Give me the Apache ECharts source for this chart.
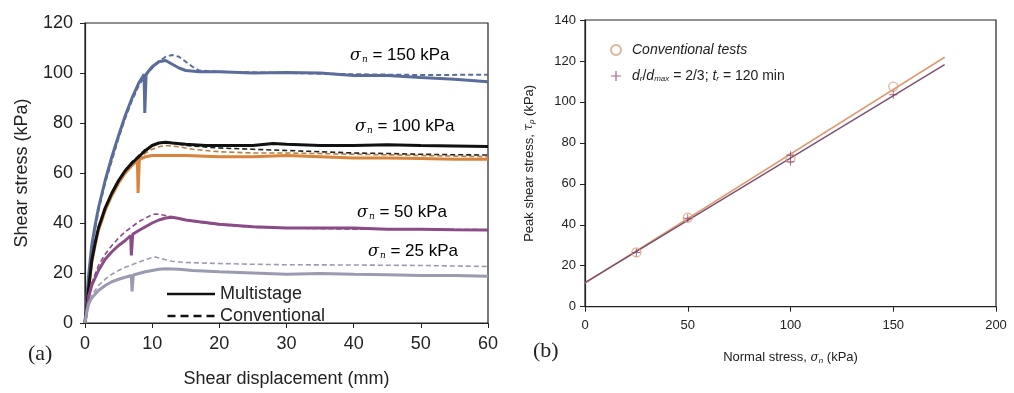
<!DOCTYPE html>
<html><head><meta charset="utf-8">
<script src="https://cdn.jsdelivr.net/npm/echarts@6/dist/echarts.min.js"></script>
<style>html,body{margin:0;padding:0;background:#fff}#c{width:1014px;height:393px}</style>
</head><body><div id="c"></div>
<script>
// ---- Panel (a): shear stress vs shear displacement ----
const ms150 = [[0,0],[0.5,18],[1,31],[1.5,39],[2,46],[3,57],[4,66.5],[5,75],[6,83],[7,90],[8,96],[8.8,99.5],[8.9,84],[9.0,83.4],[9.1,99.5],[10,102.5],[11,104.5],[12,105],[13,103.5],[14,102],[15,101],[17,100.5],[20,100.5],[25,100],[30,100.2],[35,100],[40,99],[45,99],[50,98.2],[55,97.5],[60,96.5]];
const cv150 = [[0,0],[0.5,17],[1,30],[2,45],[3,56],[4,65],[5,74],[6,82],[7,89],[8,95],[9,99],[10,102],[11,104.5],[12,106.5],[13,107.2],[14,106.5],[15,104.5],[16,102.5],[17,101],[20,100.5],[30,100],[40,99.5],[50,99.2],[60,99.3]];
const blk100 = [[0,0],[0.5,13],[1,25],[1.5,32],[2,38],[3,46],[4,52],[5,57],[6,61],[7,64],[8,66.5],[9,69],[10,71],[11,72],[12,72.3],[13,72],[15,71.5],[18,71],[20,71],[25,71],[28,71.8],[30,71.5],[35,71],[40,71],[45,71.3],[50,71],[55,70.8],[60,70.6]];
const org100 = [[0,0],[0.5,13],[1,24],[1.5,31],[2,37],[3,45],[4,51],[5,56],[6,60],[7,63],[7.8,65],[7.9,52],[8.0,52],[8.1,65.5],[9,66.5],[10,67],[15,67],[20,66.5],[25,66.5],[30,67],[35,66.5],[40,66],[45,66],[50,65.8],[55,65.5],[60,65.5]];
const blk100c = [[0,0],[1,25],[2,38],[3,46],[4,52],[5,57],[6,61],[7,64.5],[8,67],[9,69.5],[10,71],[11,72],[12,72.5],[13,72],[15,71],[20,70],[25,69.5],[30,69],[35,68.5],[40,68],[45,67.8],[50,67.5],[55,67.3],[60,67.2]];
const org100c = [[0,0],[1,24],[2,37],[3,45],[4,51.5],[5,56.5],[6,60.5],[7,63.5],[8,66],[9,68],[10,69.5],[11,70.5],[12,71],[14,70.5],[16,69.5],[20,68.5],[25,68],[30,68],[40,67.5],[50,67],[60,66.5]];
const ms50 = [[0,0],[0.3,6],[0.6,11],[1,15],[2,21],[3,25.5],[4,28.5],[5,31],[6,33],[6.8,35],[6.9,27],[7.0,26.5],[7.1,35.5],[8,37],[9,38.5],[10,40],[11,41.2],[12,42],[13,42.3],[14,41.8],[15,41.2],[17,40.5],[20,39.5],[25,38.5],[30,38],[35,38],[40,38],[45,37.5],[50,37.5],[55,37.3],[60,37.2]];
const cv50 = [[0,0],[0.5,11],[1,16],[2,23],[3,27.5],[4,31],[5,34],[6,36.5],[7,38.5],[8,40.5],[9,42],[10,43.3],[10.5,43.6],[11,43.5],[12,43],[13,42.5],[14,41.8],[15,41.2],[17,40.3],[20,39.3],[25,38.3],[30,38],[35,37.8],[40,37.5],[50,37.5],[60,37.3]];
const ms25 = [[0,0],[0.3,5],[0.6,8],[1,10],[2,13],[3,15],[4,16.5],[5,17.5],[6,18.3],[6.9,19],[7.0,12.6],[7.1,12.6],[7.2,19.2],[8,19.8],[9,20.5],[10,21],[11,21.5],[12,21.7],[14,21.5],[16,21],[20,20.5],[25,20],[30,19.5],[35,19.8],[40,19.5],[45,19.3],[50,19],[55,19],[60,18.7]];
const cv25 = [[0,0],[0.5,7],[1,11],[2,15],[3,17.5],[4,19.5],[5,21],[6,22.3],[7,23.3],[8,24.3],[9,25.3],[10,26.2],[10.5,26.4],[11,26],[12,25.3],[13,24.7],[15,24.2],[20,23.8],[25,23.5],[30,23.3],[40,23.2],[50,23],[60,22.6]];
const labelsA = ['150','100','50','25'];

// ---- Panel (b): peak shear stress vs normal stress ----
const convPts = [[25,26.5],[50,43.5],[100,72.5],[150,107.5]];
const msPts = [[25,26.5],[50,43.2],[100,74],[100,70.8],[150,103.5]];
const convFit = [[0,11.5],[175,121.8]];
const msFit = [[0,11.8],[175,118.2]];

const F = 'Liberation Sans, Arial, sans-serif';
const chart = echarts.init(document.getElementById('c'), null, {renderer:'canvas'});

function line(name, data, color, dashed, width, z){
  return {type:'line', name, data, xAxisIndex:0, yAxisIndex:0, symbol:'none', smooth:false, z:z||2,
    lineStyle:{color, width, type: dashed?[5,3]:'solid'}, itemStyle:{color}, silent:true, animation:false};
}
const blue='#5a6d9a', orange='#d9843c', purple='#8a4b86', grey='#9a9bb0';
const plusPath = 'path://M-0.12,-1 L0.12,-1 L0.12,1 L-0.12,1 Z M-1,-0.12 L1,-0.12 L1,0.12 L-1,0.12 Z';
const solidIcon = 'path://M0,0 L48,0 L48,2.6 L0,2.6 Z';
const dashIcon = 'path://M0,0 L8,0 L8,2.6 L0,2.6 Z M13,0 L21,0 L21,2.6 L13,2.6 Z M26,0 L34,0 L34,2.6 L26,2.6 Z M39,0 L47,0 L47,2.6 L39,2.6 Z';

const series = [
  line('cv150', cv150, blue, true, 2),
  line('ms150', ms150, blue, false, 3),
  line('org100', org100, orange, false, 3),
  line('org100c', org100c, '#c07a3a', true, 1.6),
  line('blk100c', blk100c, '#222', true, 1.6),
  line('blk100', blk100, '#111', false, 3),
  line('cv50', cv50, purple, true, 1.6),
  line('ms50', ms50, purple, false, 3),
  line('cv25', cv25, grey, true, 1.6),
  line('ms25', ms25, grey, false, 3),
  {type:'line', name:'Multistage', data:[], symbol:'none', lineStyle:{color:'#111', width:2.5}, itemStyle:{color:'#111'}},
  {type:'line', name:'Conventional', data:[], symbol:'none', lineStyle:{color:'#111', width:1.5, type:[5,3]}, itemStyle:{color:'#111'}},
  {type:'line', name:'convFit', data:convFit, xAxisIndex:1, yAxisIndex:1, symbol:'none', lineStyle:{color:'#de9a72', width:1.6}, animation:false},
  {type:'line', name:'msFit', data:msFit, xAxisIndex:1, yAxisIndex:1, symbol:'none', lineStyle:{color:'#7c4d6e', width:1.4}, animation:false},
  {type:'scatter', name:'Conventional tests', data:convPts, xAxisIndex:1, yAxisIndex:1, symbol:'circle', symbolSize:9,
    itemStyle:{color:'rgba(255,255,255,0)', borderColor:'#d9a07e', borderWidth:1.3}, animation:false, z:5},
  {type:'scatter', name:'ms', data:msPts, xAxisIndex:1, yAxisIndex:1,
    symbol:plusPath, symbolSize:8, itemStyle:{color:'#8b3d6c'}, animation:false, z:6}
];

const axisTxt = {color:'#222', fontFamily:F};
const sigma = (v) => `{s|σ}{n|n}{t| = ${v} kPa}`;
const richA = {s:{fontFamily:'DejaVu Serif, serif', fontStyle:'italic', fontSize:16, color:'#222'},
  n:{fontFamily:'DejaVu Serif, serif', fontStyle:'italic', fontSize:9, color:'#222', padding:[9,0,0,1]},
  t:{fontFamily:F, fontSize:17, color:'#222'}};
const annPos = [[350,47],[355,118],[357,204],[368,243]];

chart.setOption({
  animation:false,
  backgroundColor:'#fff',
  grid:[{left:85, top:23, width:403, height:302, show:true, borderColor:'#222', borderWidth:1.2},
        {left:585, top:20, width:411, height:286.7, show:true, borderColor:'#222', borderWidth:1.2}],
  xAxis:[
    {type:'value', gridIndex:0, min:0, max:60, interval:10, name:'Shear displacement (mm)', nameLocation:'middle', nameGap:47,
      nameTextStyle:{fontSize:18, color:'#222', fontFamily:F},
      axisLine:{lineStyle:{color:'#222', width:1.2}}, axisTick:{show:true, length:5, lineStyle:{color:'#222'}},
      axisLabel:{fontSize:18, margin:12, ...axisTxt}, splitLine:{show:false}},
    {type:'value', gridIndex:1, min:0, max:200, interval:50, name:'Normal stress, {i|σ}{n|n} (kPa)', nameLocation:'middle', nameGap:44,
      nameTextStyle:{fontSize:13, color:'#222', fontFamily:F, rich:{i:{fontFamily:'DejaVu Serif, serif', fontStyle:'italic', fontSize:12}, n:{fontStyle:'italic', fontSize:8, padding:[6,0,0,0]}}},
      axisLine:{lineStyle:{color:'#222', width:1.2}}, axisTick:{show:true, length:5, lineStyle:{color:'#222'}},
      axisLabel:{fontSize:13, margin:12, ...axisTxt}, splitLine:{show:false}}
  ],
  yAxis:[
    {type:'value', gridIndex:0, min:0, max:120, interval:20, name:'Shear stress (kPa)', nameLocation:'middle', nameGap:54,
      nameTextStyle:{fontSize:18, color:'#222', fontFamily:F},
      axisLine:{show:true, lineStyle:{color:'#222', width:1.2}}, axisTick:{show:true, length:5, lineStyle:{color:'#222'}},
      axisLabel:{fontSize:18, margin:12, ...axisTxt}, splitLine:{show:false}},
    {type:'value', gridIndex:1, min:0, max:140, interval:20, name:'Peak shear stress, {i|τ}{n|p} (kPa)', nameLocation:'middle', nameGap:49,
      nameTextStyle:{fontSize:13, color:'#222', fontFamily:F, rich:{i:{fontFamily:'DejaVu Serif, serif', fontStyle:'italic', fontSize:12}, n:{fontStyle:'italic', fontSize:8, padding:[6,0,0,0]}}},
      axisLine:{show:true, lineStyle:{color:'#222', width:1.2}}, axisTick:{show:true, length:5, lineStyle:{color:'#222'}},
      axisLabel:{fontSize:13, margin:9, ...axisTxt}, splitLine:{show:false}}
  ],
  legend:[
    {data:[{name:'Multistage', icon:solidIcon},{name:'Conventional', icon:dashIcon}], orient:'vertical', left:162, top:280,
      itemWidth:48, itemHeight:2.6, itemGap:4,
      textStyle:{fontSize:18, color:'#222', fontFamily:F, padding:[0,0,0,0]}, selectedMode:false},
    {data:[{name:'Conventional tests', icon:'circle'},{name:'ms', icon:plusPath}],
      orient:'vertical', left:605, top:38, itemWidth:10, itemHeight:10, itemGap:12, selectedMode:false,
      formatter:function(n){ return n==='ms' ? '{i|d}{b|r}{t|/}{i|d}{b|max}{t| = 2/3; }{i|t}{b|r}{t| = 120 min}' : '{c|Conventional tests}'; },
      textStyle:{fontSize:14, color:'#222', fontFamily:F, padding:[0,0,0,6],
        rich:{c:{fontStyle:'italic', fontSize:14, fontFamily:F}, i:{fontStyle:'italic', fontSize:14, fontFamily:F},
          b:{fontStyle:'italic', fontSize:8, fontFamily:F, padding:[6,0,0,0]}, t:{fontSize:14, fontFamily:F}}}}
  ],
  graphic:[
    ...labelsA.map((v,i)=>({type:'text', left:annPos[i][0], top:annPos[i][1], style:{text:sigma(v), rich:richA}})),
    {type:'text', left:28, top:343, style:{text:'(a)', font:'22px "Liberation Serif", serif', fill:'#222'}},
    {type:'text', left:533, top:340, style:{text:'(b)', font:'22px "Liberation Serif", serif', fill:'#222'}}
  ],
  series
});
</script></body></html>
